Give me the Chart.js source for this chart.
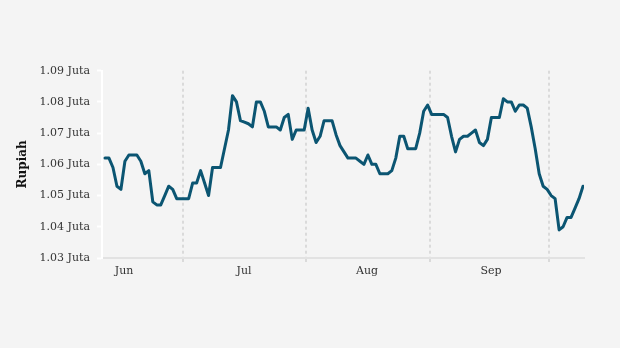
<!DOCTYPE html>
<html lang="en">
<head>
<meta charset="utf-8"/>
<title>Rupiah</title>
<script src="https://cdn.jsdelivr.net/npm/chart.js"></script>
<style>
  html, body { margin: 0; padding: 0; background: #f4f4f4; }
  #wrap { width: 620px; height: 348px; }
</style>
</head>
<body>
<div id="wrap"><canvas id="chart" width="620" height="348"></canvas></div>
<script>
// daily rate, in Juta rupiah, day 0 = 11 Jun
const rupiah = [
  1.062, 1.062, 1.059, 1.053, 1.052, 1.061, 1.063, 1.063, 1.063, 1.061,
  1.057, 1.058, 1.048, 1.047, 1.047, 1.050, 1.053, 1.052, 1.049, 1.049,
  1.049, 1.049, 1.054, 1.054, 1.058, 1.054, 1.050, 1.059, 1.059, 1.059,
  1.065, 1.071, 1.082, 1.080, 1.074, 1.0735, 1.073, 1.072, 1.080, 1.080,
  1.077, 1.072, 1.072, 1.072, 1.071, 1.075, 1.076, 1.068, 1.071, 1.071,
  1.071, 1.078, 1.071, 1.067, 1.069, 1.074, 1.074, 1.074, 1.0695, 1.066,
  1.064, 1.062, 1.062, 1.062, 1.061, 1.060, 1.063, 1.060, 1.060, 1.057,
  1.057, 1.057, 1.058, 1.062, 1.069, 1.069, 1.065, 1.065, 1.065, 1.070,
  1.077, 1.079, 1.076, 1.076, 1.076, 1.076, 1.075, 1.069, 1.064, 1.068,
  1.069, 1.069, 1.070, 1.071, 1.067, 1.066, 1.068, 1.075, 1.075, 1.075,
  1.081, 1.080, 1.080, 1.077, 1.079, 1.079, 1.078, 1.072, 1.065, 1.057,
  1.053, 1.052, 1.050, 1.049, 1.039, 1.040, 1.043, 1.043, 1.046, 1.049,
  1.053
];

const monthLabels = ['Jun', 'Jul', 'Aug', 'Sep'];
const monthLabelAt = [4.8, 34.9, 65.8, 96.9];   // mid-month, in days
const monthStartAt = [19.5, 50.5, 81.5, 111.5]; // 1 Jul, 1 Aug, 1 Sep, 1 Oct

const yTicks = [1.03, 1.04, 1.05, 1.06, 1.07, 1.08, 1.09];

const points = rupiah.map((v, i) => ({ x: i, y: v }));
const isStart = v => monthStartAt.includes(v);

const bg = {
  id: 'bg',
  beforeDraw(chart) {
    const c = chart.ctx;
    c.save();
    c.fillStyle = '#f4f4f4';
    c.fillRect(0, 0, chart.width, chart.height);
    c.restore();
  }
};

const serif = "'DejaVu Serif', serif";

new Chart(document.getElementById('chart'), {
  type: 'line',
  data: {
    datasets: [{
      data: points,
      borderColor: '#0b5572',
      borderWidth: 3,
      pointRadius: 0,
      tension: 0,
      borderJoinStyle: 'round',
      borderCapStyle: 'round'
    }]
  },
  options: {
    responsive: false,
    animation: false,
    layout: { padding: { left: 0, right: 36, top: 70.7, bottom: 50 } },
    plugins: { legend: { display: false }, tooltip: { enabled: false } },
    scales: {
      x: {
        type: 'linear',
        min: -0.753,
        max: 120.25,
        afterFit(s) { s.height = 40; },
        afterBuildTicks(s) {
          s.ticks = monthLabelAt.concat(monthStartAt).map(v => ({ value: v }));
        },
        grid: {
          color: c => (c.tick && isStart(c.tick.value)) ? '#dadada' : 'rgba(0,0,0,0)',
          tickColor: c => (c.tick && isStart(c.tick.value)) ? '#dadada' : 'rgba(0,0,0,0)',
          lineWidth: 2,
          tickWidth: 2,
          tickLength: 5,
          tickBorderDash: [3, 3]
        },
        border: { display: true, color: '#e2e2e2', width: 2, dash: [3, 3] },
        ticks: {
          autoSkip: false,
          maxRotation: 0,
          padding: 2,
          color: '#333',
          font: { family: serif, size: 11 },
          callback: v => {
            const k = monthLabelAt.indexOf(v);
            return k >= 0 ? monthLabels[k] : '';
          }
        }
      },
      y: {
        min: 1.03,
        max: 1.09,
        afterFit(s) { s.width = 102; },
        afterBuildTicks(s) { s.ticks = yTicks.map(v => ({ value: v })); },
        grid: {
          drawOnChartArea: false,
          drawTicks: true,
          tickLength: 5,
          tickWidth: 2,
          tickColor: '#ffffff'
        },
        border: { display: true, color: '#ffffff', width: 2 },
        ticks: {
          padding: 7,
          color: '#333',
          font: { family: serif, size: 11 },
          callback: v => v.toFixed(2) + ' Juta'
        },
        title: {
          display: true,
          text: 'Rupiah',
          color: '#111',
          padding: { top: 16, bottom: 0 },
          font: { family: serif, size: 12, weight: 'bold' }
        }
      }
    }
  },
  plugins: [bg]
});
</script>
</body>
</html>
